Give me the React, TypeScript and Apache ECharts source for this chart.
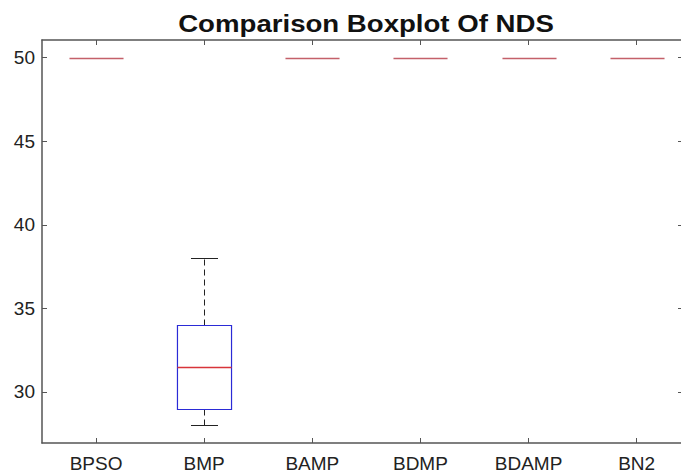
import React, { useEffect, useRef } from "react";
import * as echarts from "echarts";

// Methods compared and their NDS summary statistics
const categories = ["BPSO", "BMP", "BAMP", "BDMP", "BDAMP", "BN2"];
const lowerWhisker = [50, 28, 50, 50, 50, 50];
const q1 = [50, 29, 50, 50, 50, 50];
const median = [50, 31.5, 50, 50, 50, 50];
const q3 = [50, 34, 50, 50, 50, 50];
const upperWhisker = [50, 38, 50, 50, 50, 50];
const yTicks = [30, 35, 40, 45, 50];
const xPositions = categories.map((_, i) => i + 1);

const FONT = "'Liberation Sans', Arial, Helvetica, sans-serif";
const AXIS_COLOR = "#555555";

export default function App() {
  const ref = useRef<HTMLDivElement>(null);

  useEffect(() => {
    if (!ref.current) return;
    const chart = echarts.init(ref.current, undefined, { renderer: "svg" });

    const data = categories.map((_, i) => [
      xPositions[i],
      lowerWhisker[i],
      q1[i],
      median[i],
      q3[i],
      upperWhisker[i],
    ]);

    const renderItem = (params: any, api: any) => {
      const pos = api.value(0);
      const unit = api.size([1, 0])[0];
      const half = unit * 0.25;
      const cap = unit * 0.125;
      const p = (v: number) => api.coord([pos, v]);
      const lo = p(api.value(1));
      const b1 = p(api.value(2));
      const md = p(api.value(3));
      const b3 = p(api.value(4));
      const hi = p(api.value(5));
      const cx = Math.round(md[0]) + 0.5;
      const ry = (y: number) => Math.round(y) + 0.5;
      const dashed = { stroke: "#222222", lineWidth: 1, lineDash: [6, 4] };
      const solid = { stroke: "#222222", lineWidth: 1 };
      const spread = api.value(5) > api.value(1);
      const children: any[] = [];
      // a box that collapses to one value is drawn by its median line alone
      if (spread) {
        children.push(
          { type: "line", shape: { x1: cx, y1: ry(b3[1]), x2: cx, y2: ry(hi[1]) }, style: dashed },
          { type: "line", shape: { x1: cx, y1: ry(b1[1]), x2: cx, y2: ry(lo[1]) }, style: dashed },
          { type: "line", shape: { x1: cx - cap, y1: ry(hi[1]), x2: cx + cap, y2: ry(hi[1]) }, style: solid },
          { type: "line", shape: { x1: cx - cap, y1: ry(lo[1]), x2: cx + cap, y2: ry(lo[1]) }, style: solid },
          {
            type: "rect",
            shape: { x: cx - half, y: ry(b3[1]), width: half * 2, height: ry(b1[1]) - ry(b3[1]) },
            style: { fill: "none", stroke: "#2b2bd6", lineWidth: 1.2 },
          }
        );
      }
      children.push({
        type: "line",
        shape: { x1: cx - half, y1: ry(md[1]), x2: cx + half, y2: ry(md[1]) },
        style: { stroke: spread ? "#d8343a" : "#c4606a", lineWidth: 1.6 },
      });
      return { type: "group", children };
    };

    // positions run from 0.5 up to the right edge of the frame
    const xAxisBase = {
      type: "value" as const,
      min: 0.5,
      max: 6.41,
      axisLine: { show: true, lineStyle: { color: AXIS_COLOR, width: 1.5 } },
      axisTick: { show: true, inside: true, length: 5, customValues: xPositions, lineStyle: { color: AXIS_COLOR } },
      splitLine: { show: false },
    };
    const yAxisBase = {
      type: "value" as const,
      min: 26.95,
      max: 51.05,
      axisLine: { show: true, lineStyle: { color: AXIS_COLOR, width: 1.5 } },
      axisTick: { show: true, inside: true, length: 5, customValues: yTicks, lineStyle: { color: AXIS_COLOR } },
      splitLine: { show: false },
    };

    chart.setOption({
      animation: false,
      backgroundColor: "#ffffff",
      graphic: [
        {
          type: "text",
          x: 366,
          y: 24,
          scaleX: 1.15,
          style: {
            text: "Comparison Boxplot Of NDS",
            x: 0,
            y: 0,
            textAlign: "center",
            textVerticalAlign: "middle",
            fontFamily: FONT,
            fontSize: 24,
            fontWeight: "bold",
            fill: "#111111",
          },
        },
      ],
      grid: { left: 42, top: 40, right: 0, bottom: 26, containLabel: false },
      xAxis: [
        {
          ...xAxisBase,
          position: "bottom",
          axisLabel: {
            customValues: xPositions,
            formatter: (v: number) => categories[Math.round(v) - 1] ?? "",
            margin: 11,
            fontFamily: FONT,
            fontSize: 19,
            color: "#222222",
          },
        },
        { ...xAxisBase, position: "top", axisLabel: { show: false } },
      ],
      yAxis: [
        {
          ...yAxisBase,
          position: "left",
          axisLabel: { customValues: yTicks, margin: 7, fontFamily: FONT, fontSize: 19, color: "#222222" },
        },
        {
          ...yAxisBase,
          position: "right",
          axisLine: { show: false },
          axisTick: { ...yAxisBase.axisTick, length: 3 },
          axisLabel: { show: false },
        },
      ],
      series: [
        {
          type: "custom",
          renderItem,
          xAxisIndex: 0,
          yAxisIndex: 0,
          encode: { x: 0, y: [1, 2, 3, 4, 5] },
          data,
          clip: false,
        },
      ],
    });

    return () => chart.dispose();
  }, []);

  return <div ref={ref} style={{ width: 681, height: 473, position: "absolute", left: 0, top: 0 }} />;
}
